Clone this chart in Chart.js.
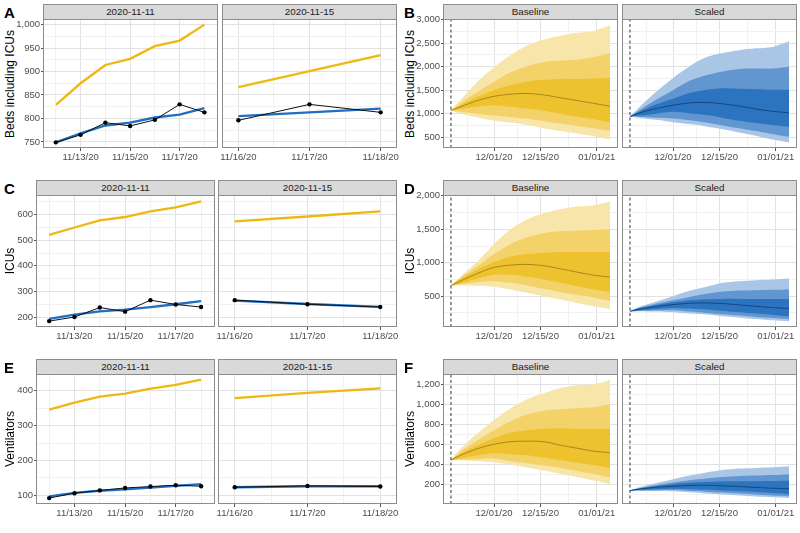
<!DOCTYPE html>
<html>
<head>
<meta charset="utf-8">
<script src="https://cdn.jsdelivr.net/npm/chart.js@4.4.1/dist/chart.umd.min.js"></script>
<style>
  body { margin: 0; background: #fff; width: 800px; height: 533px; position: relative; overflow: hidden;
         font-family: "Liberation Sans", Arial, Helvetica, sans-serif; }
  .strip { position: absolute; background: #d9d9d9; border: 1px solid #8c8c8c; box-sizing: border-box;
           font-size: 9.8px; color: #1a1a1a; text-align: center; line-height: 14px; }
  .ytitle { position: absolute; width: 200px; height: 16px; line-height: 16px; text-align: center;
            font-size: 12px; color: #000; transform: rotate(-90deg); white-space: nowrap; }
  .tag { position: absolute; font-weight: bold; font-size: 15px; line-height: 15px; color: #000; }
</style>
</head>
<body>
<script>
// ---- short term (left panels), forecast dates 2020-11-11 and 2020-11-15 ----
const shortDates1 = ['2020-11-12', '2020-11-13', '2020-11-14', '2020-11-15', '2020-11-16', '2020-11-17', '2020-11-18'];
const shortDates2 = ['2020-11-16', '2020-11-17', '2020-11-18'];

const bedsObs1 = [749, 765, 791, 784, 797, 830, 813];
const bedsBlue1 = [749, 768, 785, 791, 802, 808, 822];
const bedsYellow1 = [829, 875, 914, 927, 954, 966, 1000];
const bedsObs2 = [796, 830, 813];
const bedsBlue2 = [805, 813, 821];
const bedsYellow2 = [867, 901, 935];

const icuObs1 = [184, 200, 237, 221, 266, 249, 239];
const icuBlue1 = [193, 209, 222, 229, 239, 250, 262];
const icuYellow1 = [521, 550, 578, 591, 613, 629, 652];
const icuObs2 = [266, 250, 239];
const icuBlue2 = [264, 251, 240];
const icuYellow2 = [574, 593, 613];

const ventObs1 = [92, 106, 114, 121, 125, 129, 126];
const ventBlue1 = [97, 107, 113, 117, 122, 127, 132];
const ventYellow1 = [346, 366, 383, 392, 406, 417, 432];
const ventObs2 = [123, 127, 125];
const ventBlue2 = [123, 126, 126];
const ventYellow2 = [379, 394, 407];

// ---- projections (right panels): median and 50/80/95% bands ----
const projDates = ['2020-11-18', '2020-11-21', '2020-11-26', '2020-12-01', '2020-12-06', '2020-12-11',
                   '2020-12-16', '2020-12-21', '2020-12-26', '2020-12-31', '2021-01-05'];
const forecastStart = '2020-11-18';

const bedsBaseMed  = [1070, 1150, 1280, 1370, 1415, 1430, 1400, 1340, 1280, 1220, 1160];
const bedsBaseLo50 = [1070, 1100, 1150, 1180, 1150, 1110, 1060, 1000, 940, 880, 810];
const bedsBaseHi50 = [1070, 1190, 1360, 1500, 1610, 1680, 1720, 1740, 1740, 1750, 1760];
const bedsBaseLo80 = [1070, 1040, 1000, 960, 930, 890, 840, 790, 740, 690, 630];
const bedsBaseHi80 = [1070, 1230, 1460, 1680, 1880, 2010, 2100, 2130, 2150, 2200, 2290];
const bedsBaseLo95 = [1070, 1000, 920, 850, 810, 760, 690, 630, 580, 520, 450];
const bedsBaseHi95 = [1070, 1300, 1680, 1990, 2250, 2450, 2580, 2660, 2720, 2760, 2880];

const bedsScMed  = [940, 1020, 1110, 1180, 1230, 1240, 1210, 1160, 1100, 1050, 1020];
const bedsScLo50 = [940, 960, 1000, 1040, 1010, 970, 910, 850, 800, 760, 720];
const bedsScHi50 = [940, 1050, 1200, 1320, 1440, 1510, 1540, 1530, 1520, 1510, 1510];
const bedsScLo80 = [940, 930, 915, 900, 860, 810, 750, 690, 630, 570, 510];
const bedsScHi80 = [940, 1080, 1300, 1500, 1700, 1820, 1900, 1950, 1960, 1960, 2000];
const bedsScLo95 = [940, 910, 870, 820, 780, 730, 670, 600, 530, 450, 390];
const bedsScHi95 = [940, 1150, 1470, 1760, 2010, 2200, 2290, 2350, 2390, 2420, 2540];

const icuBaseMed  = [660, 730, 840, 930, 965, 975, 955, 910, 860, 815, 785];
const icuBaseLo50 = [660, 690, 760, 820, 820, 790, 750, 700, 650, 600, 560];
const icuBaseHi50 = [660, 760, 900, 1010, 1090, 1130, 1150, 1160, 1160, 1160, 1160];
const icuBaseLo80 = [660, 680, 710, 725, 700, 660, 610, 560, 520, 480, 430];
const icuBaseHi80 = [660, 780, 950, 1130, 1280, 1380, 1440, 1470, 1480, 1490, 1500];
const icuBaseLo95 = [660, 660, 655, 640, 600, 550, 500, 450, 400, 350, 310];
const icuBaseHi95 = [660, 800, 1020, 1280, 1500, 1650, 1740, 1800, 1840, 1860, 1910];

const icuScMed  = [275, 310, 345, 375, 395, 400, 390, 370, 350, 330, 315];
const icuScLo50 = [275, 290, 310, 325, 315, 300, 280, 260, 240, 220, 200];
const icuScHi50 = [275, 320, 370, 410, 440, 455, 460, 460, 460, 460, 460];
const icuScLo80 = [275, 280, 285, 290, 270, 250, 230, 210, 190, 175, 160];
const icuScHi80 = [275, 330, 390, 440, 490, 535, 570, 585, 590, 595, 600];
const icuScLo95 = [275, 275, 270, 260, 240, 225, 200, 180, 160, 140, 125];
const icuScHi95 = [275, 345, 420, 500, 580, 640, 700, 725, 740, 750, 765];

const ventBaseMed  = [440, 490, 555, 600, 625, 630, 625, 590, 560, 530, 515];
const ventBaseLo50 = [440, 460, 490, 510, 500, 490, 465, 440, 415, 390, 360];
const ventBaseHi50 = [440, 510, 590, 660, 715, 740, 755, 760, 755, 755, 755];
const ventBaseLo80 = [440, 445, 450, 455, 430, 410, 385, 360, 330, 300, 265];
const ventBaseHi80 = [440, 530, 640, 740, 830, 900, 935, 950, 960, 970, 1000];
const ventBaseLo95 = [440, 440, 430, 420, 395, 365, 335, 300, 270, 235, 200];
const ventBaseHi95 = [440, 560, 710, 840, 960, 1050, 1110, 1160, 1190, 1200, 1245];

const ventScMed  = [135, 150, 168, 178, 186, 188, 183, 175, 166, 158, 153];
const ventScLo50 = [135, 140, 148, 153, 148, 142, 135, 127, 120, 110, 100];
const ventScHi50 = [135, 155, 180, 200, 212, 220, 226, 228, 228, 230, 232];
const ventScLo80 = [135, 136, 138, 140, 132, 124, 115, 105, 95, 85, 77];
const ventScHi80 = [135, 160, 190, 215, 238, 256, 270, 280, 285, 290, 295];
const ventScLo95 = [135, 133, 130, 127, 117, 105, 95, 85, 75, 67, 60];
const ventScHi95 = [135, 170, 210, 248, 285, 315, 340, 355, 362, 368, 378];

// axis breaks
const shortMajor1 = ['2020-11-13', '2020-11-15', '2020-11-17'];
const shortMajor2 = ['2020-11-16', '2020-11-17', '2020-11-18'];
const projMajor = ['2020-12-01', '2020-12-15', '2021-01-01'];

const FONT = '"Liberation Sans", Arial, Helvetica, sans-serif';
const DAY0 = Date.UTC(2020, 10, 1);

const gold = { light: '#f8e5aa', mid: '#f3d369', dark: '#eec22e', line: '#a5861c' };
const blue = { light: '#a9c6e6', mid: '#6196d0', dark: '#2c74bf', line: '#15467e' };

function dayOf(s) {
    const p = s.split('-').map(Number);
    return (Date.UTC(p[0], p[1] - 1, p[2]) - DAY0) / 86400000;
}

function dateLabel(t) {
    const d = new Date(DAY0 + t * 86400000);
    const two = n => String(n).padStart(2, '0');
    return two(d.getUTCMonth() + 1) + '/' + two(d.getUTCDate()) + '/' + String(d.getUTCFullYear()).slice(2);
}

// majors + halfway minors, like ggplot
function withMinors(major, lo, hi, extraStep) {
    const all = major.slice();
    for (let i = 0; i < major.length - 1; i++) all.push((major[i] + major[i + 1]) / 2);
    all.push(major[0] - extraStep / 2, major[major.length - 1] + extraStep / 2);
    return { major, all: all.filter(v => v > lo && v < hi).sort((a, b) => a - b) };
}

function yBreaks(min, max, step) {
    const major = [];
    for (let v = Math.ceil(min / step) * step; v <= max; v += step) major.push(v);
    return withMinors(major, min, max, step);
}

const frame = {
    id: 'frame',
    afterDatasetsDraw(chart) {
        const a = chart.chartArea, c = chart.ctx;
        c.save();
        c.strokeStyle = '#8c8c8c';
        c.lineWidth = 1;
        c.strokeRect(a.left + 0.5, a.top + 0.5, a.right - a.left - 1, a.bottom - a.top - 1);
        c.restore();
    }
};

function addDiv(cls, text, css) {
    const d = document.createElement('div');
    d.className = cls;
    d.textContent = text;
    d.style.cssText = css;
    document.body.appendChild(d);
}

function facet(cfg) {
    const yW = cfg.showY ? 40 : 0;
    const padL = cfg.showY ? 2 : 14, padR = 14, padT = 8, xH = 22;
    const w = cfg.right - cfg.left, h = cfg.bottom - cfg.top;

    addDiv('strip', cfg.strip, `left:${cfg.left}px;top:${cfg.top - 15}px;width:${w}px;height:16px`);

    const cv = document.createElement('canvas');
    cv.width = padL + yW + w + padR;
    cv.height = padT + h + xH;
    cv.style.cssText = `position:absolute;left:${cfg.left - yW - padL}px;top:${cfg.top - padT}px`;
    document.body.appendChild(cv);

    const xt = cfg.xTicks, yt = cfg.yTicks;
    const tickFont = { family: FONT, size: 9.5 };

    new Chart(cv, {
        type: 'line',
        data: { datasets: cfg.datasets },
        options: {
            responsive: false,
            animation: false,
            devicePixelRatio: 1,
            layout: { padding: { left: padL, right: padR, top: padT, bottom: 0 } },
            plugins: { legend: { display: false }, tooltip: { enabled: false } },
            scales: {
                x: {
                    type: 'linear', min: cfg.xMin, max: cfg.xMax,
                    afterBuildTicks: ax => { ax.ticks = xt.all.map(v => ({ value: v })); },
                    afterFit: ax => { ax.height = xH; },
                    border: { display: false },
                    grid: {
                        color: c => xt.major.includes(c.tick.value) ? '#e2e2e2' : '#f1f1f1',
                        tickLength: 3,
                        tickColor: c => xt.major.includes(c.tick.value) ? '#555' : 'rgba(0,0,0,0)'
                    },
                    ticks: {
                        autoSkip: false, maxRotation: 0, minRotation: 0, padding: 1,
                        color: '#4d4d4d', font: tickFont,
                        callback: v => xt.major.includes(v) ? dateLabel(v) : ''
                    }
                },
                y: {
                    type: 'linear', min: cfg.yMin, max: cfg.yMax,
                    afterBuildTicks: ax => { ax.ticks = yt.all.map(v => ({ value: v })); },
                    afterFit: ax => { ax.width = yW; },
                    border: { display: false },
                    grid: {
                        color: c => yt.major.includes(c.tick.value) ? '#e2e2e2' : '#f1f1f1',
                        drawTicks: cfg.showY,
                        tickLength: 2,
                        tickColor: c => yt.major.includes(c.tick.value) ? '#555' : 'rgba(0,0,0,0)'
                    },
                    ticks: {
                        display: cfg.showY, autoSkip: false, padding: 1, color: '#4d4d4d', font: tickFont,
                        callback: v => yt.major.includes(v) ? v.toLocaleString('en-US') : ''
                    }
                }
            }
        },
        plugins: [frame]
    });
}

function pts(dates, vals) {
    return dates.map((d, i) => ({ x: dayOf(d), y: vals[i] }));
}

function shortSets(dates, obs, bl, yl) {
    return [
        { data: pts(dates, obs), borderColor: '#111', borderWidth: 1, pointRadius: 2.2,
          pointBackgroundColor: '#000', pointBorderWidth: 0, tension: 0 },
        { data: pts(dates, bl), borderColor: '#1f6fc2', borderWidth: 2.3, pointRadius: 0, tension: 0 },
        { data: pts(dates, yl), borderColor: '#efb810', borderWidth: 2.3, pointRadius: 0, tension: 0 }
    ];
}

function projSets(pal, yMin, yMax, med, lo50, hi50, lo80, hi80, lo95, hi95) {
    const band = (vals, fill, col) => ({
        data: pts(projDates, vals), borderWidth: 0, borderColor: 'rgba(0,0,0,0)', pointRadius: 0,
        tension: 0.3, fill: fill ? '+1' : false, backgroundColor: col
    });
    const t0 = dayOf(forecastStart);
    return [
        { data: [{ x: t0, y: yMin }, { x: t0, y: yMax }], borderColor: '#333', borderWidth: 1,
          borderDash: [3, 2.5], pointRadius: 0 },
        { data: pts(projDates, med), borderColor: pal.line, borderWidth: 1, pointRadius: 0, tension: 0.3 },
        band(hi50, true, pal.dark), band(lo50, false),
        band(hi80, true, pal.mid), band(lo80, false),
        band(hi95, true, pal.light), band(lo95, false)
    ];
}

const sx1 = withMinors(shortMajor1.map(dayOf), 10.48, 17.55, 2);
const sx2 = withMinors(shortMajor2.map(dayOf), 14.77, 17.23, 1);
const px = withMinors(projMajor.map(dayOf), 14.6, 67.4, 16);

const rows = [
    { top: 19, bottom: 148, tag: ['A', 'B'], title: 'Beds including ICUs',
      l1: [43, 218], l2: [222, 397], sy: [737, 1012, 50], py: [270, 3015, 500],
      short: [[bedsObs1, bedsBlue1, bedsYellow1], [bedsObs2, bedsBlue2, bedsYellow2]],
      base: [bedsBaseMed, bedsBaseLo50, bedsBaseHi50, bedsBaseLo80, bedsBaseHi80, bedsBaseLo95, bedsBaseHi95],
      scaled: [bedsScMed, bedsScLo50, bedsScHi50, bedsScLo80, bedsScHi80, bedsScLo95, bedsScHi95] },
    { top: 195, bottom: 327, tag: ['C', 'D'], title: 'ICUs',
      l1: [36, 215], l2: [218, 397], sy: [161, 677, 100], py: [40, 2012, 500],
      short: [[icuObs1, icuBlue1, icuYellow1], [icuObs2, icuBlue2, icuYellow2]],
      base: [icuBaseMed, icuBaseLo50, icuBaseHi50, icuBaseLo80, icuBaseHi80, icuBaseLo95, icuBaseHi95],
      scaled: [icuScMed, icuScLo50, icuScHi50, icuScLo80, icuScHi80, icuScLo95, icuScHi95] },
    { top: 374, bottom: 504, tag: ['E', 'F'], title: 'Ventilators',
      l1: [36, 215], l2: [218, 397], sy: [75, 448, 100], py: [0, 1304, 200],
      short: [[ventObs1, ventBlue1, ventYellow1], [ventObs2, ventBlue2, ventYellow2]],
      base: [ventBaseMed, ventBaseLo50, ventBaseHi50, ventBaseLo80, ventBaseHi80, ventBaseLo95, ventBaseHi95],
      scaled: [ventScMed, ventScLo50, ventScHi50, ventScLo80, ventScHi80, ventScLo95, ventScHi95] }
];

rows.forEach(r => {
    const cy = (r.top + r.bottom) / 2;
    const syT = yBreaks(r.sy[0], r.sy[1], r.sy[2]);
    const pyT = yBreaks(r.py[0], r.py[1], r.py[2]);

    addDiv('tag', r.tag[0], `left:4px;top:${r.top - 14}px`);
    addDiv('tag', r.tag[1], `left:404px;top:${r.top - 14}px`);
    addDiv('ytitle', r.title, `left:${9.5 - 100}px;top:${cy - 8}px`);
    addDiv('ytitle', r.title, `left:${409.5 - 100}px;top:${cy - 8}px`);

    facet({ strip: '2020-11-11', left: r.l1[0], right: r.l1[1], top: r.top, bottom: r.bottom, showY: true,
            xMin: 10.48, xMax: 17.55, xTicks: sx1, yMin: r.sy[0], yMax: r.sy[1], yTicks: syT,
            datasets: shortSets(shortDates1, ...r.short[0]) });
    facet({ strip: '2020-11-15', left: r.l2[0], right: r.l2[1], top: r.top, bottom: r.bottom, showY: false,
            xMin: 14.77, xMax: 17.23, xTicks: sx2, yMin: r.sy[0], yMax: r.sy[1], yTicks: syT,
            datasets: shortSets(shortDates2, ...r.short[1]) });
    facet({ strip: 'Baseline', left: 443, right: 618, top: r.top, bottom: r.bottom, showY: true,
            xMin: 14.6, xMax: 67.4, xTicks: px, yMin: r.py[0], yMax: r.py[1], yTicks: pyT,
            datasets: projSets(gold, r.py[0], r.py[1], ...r.base) });
    facet({ strip: 'Scaled', left: 622, right: 797, top: r.top, bottom: r.bottom, showY: false,
            xMin: 14.6, xMax: 67.4, xTicks: px, yMin: r.py[0], yMax: r.py[1], yTicks: pyT,
            datasets: projSets(blue, r.py[0], r.py[1], ...r.scaled) });
});
</script>
</body>
</html>
